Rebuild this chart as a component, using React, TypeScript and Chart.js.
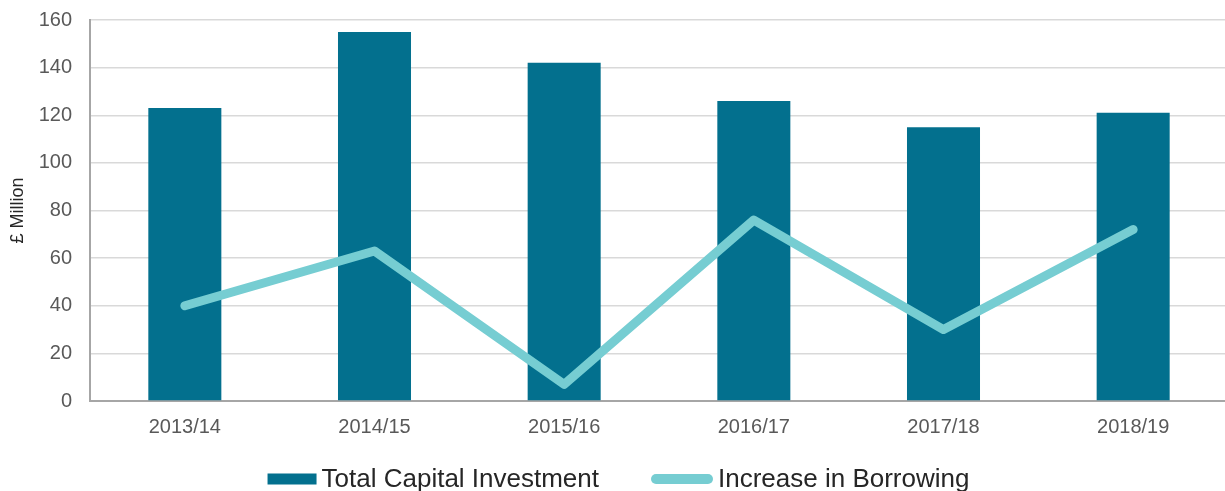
import React, { useEffect, useRef } from "react";
import { Chart, registerables } from "chart.js";

Chart.register(...registerables);

const categories = ["2013/14", "2014/15", "2015/16", "2016/17", "2017/18", "2018/19"];
const totalCapitalInvestment = [123, 155, 142, 126, 115, 121];
const increaseInBorrowing = [40, 63, 7, 76, 30, 72];
const yTicks = [0, 20, 40, 60, 80, 100, 120, 140, 160];

const BAR_COLOR = "#03708E";
const LINE_COLOR = "#76CDD2";
const FONT = "'Liberation Sans', Arial, sans-serif";

const legendPlugin = {
  id: "customLegend",
  afterDraw(chart: any) {
    const ctx = chart.ctx;
    const ds = chart.data.datasets;
    ctx.save();
    ctx.font = `26px ${FONT}`;
    ctx.textBaseline = "middle";
    const items = [
      { label: ds[0].label, w: 49, h: 11, r: 0, color: ds[0].backgroundColor },
      { label: ds[1].label, w: 62, h: 10, r: 5, color: ds[1].borderColor },
    ];
    const gapText = 5;
    const gapItems = 52;
    let total = 0;
    items.forEach((it, i) => {
      total += it.w + gapText + ctx.measureText(it.label).width;
      if (i < items.length - 1) total += gapItems;
    });
    const cy = 479;
    let x = 618.5 - total / 2;
    items.forEach((it) => {
      ctx.fillStyle = it.color;
      ctx.beginPath();
      if (it.r > 0) {
        (ctx as any).roundRect(x, cy - it.h / 2, it.w, it.h, it.r);
      } else {
        ctx.rect(x, cy - it.h / 2, it.w, it.h);
      }
      ctx.fill();
      x += it.w + gapText;
      ctx.fillStyle = "#262626";
      ctx.fillText(it.label, x, cy + 1);
      x += ctx.measureText(it.label).width + gapItems;
    });
    ctx.restore();
  },
};

export default function App() {
  const ref = useRef<HTMLCanvasElement | null>(null);

  useEffect(() => {
    document.body.style.margin = "0";
    document.body.style.overflow = "hidden";
    if (!ref.current) return;
    const chart = new Chart(ref.current, {
      type: "bar",
      data: {
        labels: categories,
        datasets: [
          {
            type: "bar",
            label: "Total Capital Investment",
            data: totalCapitalInvestment,
            backgroundColor: BAR_COLOR,
            borderWidth: 0,
            barPercentage: 0.385,
            categoryPercentage: 1,
            order: 2,
          },
          {
            type: "line",
            label: "Increase in Borrowing",
            data: increaseInBorrowing,
            borderColor: LINE_COLOR,
            backgroundColor: LINE_COLOR,
            borderWidth: 9,
            borderCapStyle: "round",
            borderJoinStyle: "round",
            pointRadius: 0,
            pointHoverRadius: 0,
            tension: 0,
            order: 1,
          } as any,
        ],
      },
      plugins: [legendPlugin],
      options: {
        animation: false,
        responsive: true,
        maintainAspectRatio: false,
        layout: { padding: { top: 20, left: 0, right: 0, bottom: 0 } },
        plugins: {
          legend: { display: false },
          tooltip: { enabled: false },
        },
        scales: {
          x: {
            grid: { display: false },
            border: { display: true, color: "#A6A6A6", width: 2 },
            ticks: {
              color: "#595959",
              font: { family: FONT, size: 20 },
              padding: 6,
              maxRotation: 0,
            },
            afterFit: (scale: any) => {
              scale.height = 90;
              scale.paddingLeft = 0;
              scale.paddingRight = 0;
            },
          },
          y: {
            min: 0,
            max: 160,
            afterBuildTicks: (scale: any) => {
              scale.ticks = yTicks.map((v) => ({ value: v }));
            },
            grid: { color: "#D9D9D9", lineWidth: 1.5, drawTicks: false },
            border: { display: true, color: "#A6A6A6", width: 2 },
            ticks: {
              color: "#595959",
              font: { family: FONT, size: 20 },
              padding: 18,
            },
            title: {
              display: true,
              text: "£ Million",
              color: "#262626",
              font: { family: FONT, size: 18 },
              padding: { top: 7, bottom: 0 },
            },
            afterFit: (scale: any) => {
              scale.width = 90;
              scale.paddingTop = 0;
              scale.paddingBottom = 0;
            },
          },
        },
      },
    });
    return () => chart.destroy();
  }, []);

  return (
    <div style={{ position: "fixed", left: 0, top: 0, width: 1228, height: 491 }}>
      <canvas ref={ref} />
    </div>
  );
}
